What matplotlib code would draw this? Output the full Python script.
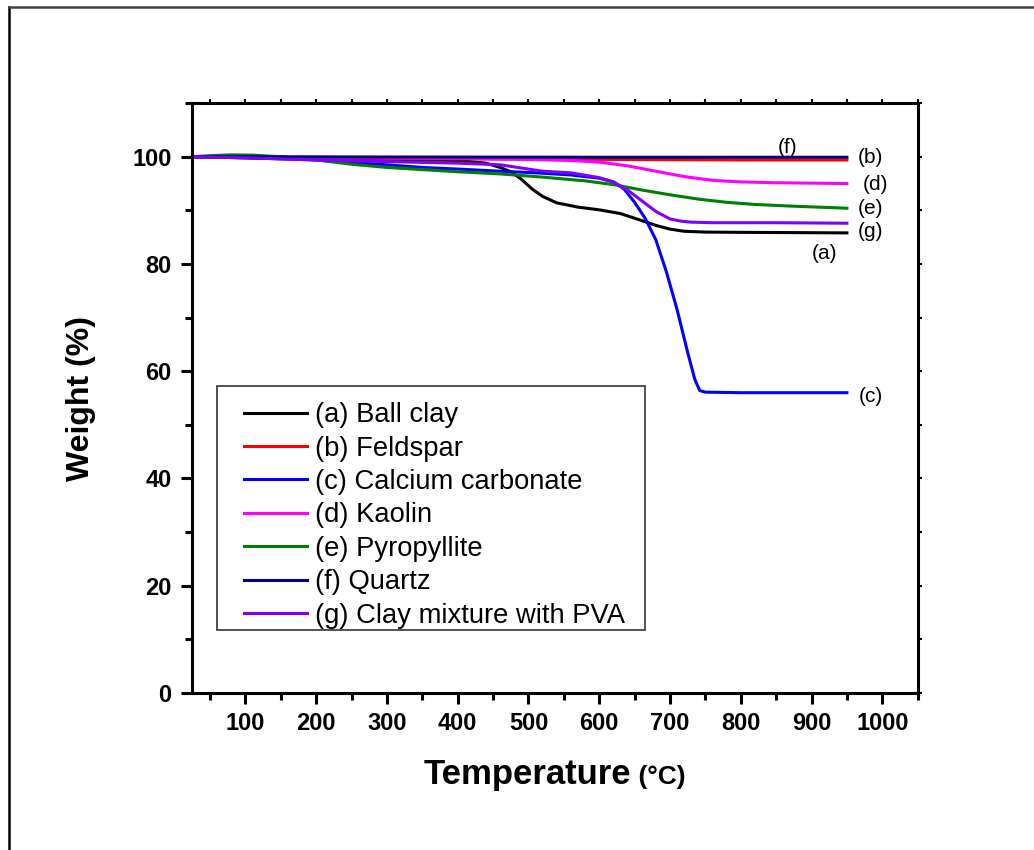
import matplotlib
matplotlib.use("Agg")
import matplotlib.pyplot as plt
from matplotlib.lines import Line2D
from matplotlib.patches import Rectangle
from matplotlib.offsetbox import TextArea, HPacker, AnchoredOffsetbox
from matplotlib.ticker import MultipleLocator

plt.rcParams['font.family'] = ['Liberation Sans', 'DejaVu Sans']

# ---- data ----
t_a = [25, 100, 200, 300, 400, 440, 460, 475, 490, 505, 520, 540, 570, 600, 630, 660, 680, 700, 720, 750, 800, 950]
w_a = [100, 99.8, 99.6, 99.5, 99.3, 98.8, 98.0, 97.2, 95.8, 94.0, 92.6, 91.4, 90.6, 90.1, 89.4, 88.1, 87.2, 86.5, 86.1, 85.95, 85.9, 85.8]

t_b = [25, 200, 400, 600, 800, 950]
w_b = [100, 99.8, 99.6, 99.5, 99.4, 99.4]

t_c = [25, 100, 200, 250, 300, 350, 400, 460, 510, 560, 600, 620, 635, 650, 665, 680, 695, 710, 725, 735, 742, 750, 800, 950]
w_c = [100, 99.8, 99.4, 98.9, 98.5, 98.0, 97.7, 97.3, 97.0, 96.6, 96.0, 95.3, 94.0, 91.5, 88.5, 84.5, 78.5, 71.5, 63.5, 58.5, 56.4, 56.1, 56.0, 56.0]

t_d = [25, 200, 400, 500, 560, 600, 640, 680, 720, 760, 800, 850, 950]
w_d = [100, 99.9, 99.7, 99.5, 99.3, 99.0, 98.3, 97.3, 96.3, 95.6, 95.3, 95.15, 95.0]

t_e = [25, 50, 80, 110, 150, 200, 250, 300, 350, 400, 460, 520, 580, 620, 660, 700, 740, 780, 820, 870, 950]
w_e = [100, 100.2, 100.35, 100.3, 100.0, 99.4, 98.6, 98.0, 97.6, 97.2, 96.8, 96.2, 95.5, 94.8, 93.8, 92.9, 92.1, 91.5, 91.1, 90.8, 90.4]

t_f = [25, 300, 600, 950]
w_f = [100, 99.95, 99.9, 99.9]

t_g = [25, 100, 200, 300, 400, 460, 520, 560, 600, 620, 640, 660, 680, 700, 715, 730, 760, 850, 950]
w_g = [100, 99.8, 99.4, 99.1, 98.8, 98.5, 97.3, 97.0, 96.1, 95.3, 93.8, 91.8, 89.8, 88.4, 88.0, 87.8, 87.7, 87.7, 87.6]

labels = ["(a) Ball clay", "(b) Feldspar", "(c) Calcium carbonate", "(d) Kaolin",
          "(e) Pyropyllite", "(f) Quartz", "(g) Clay mixture with PVA"]
colors = ["#000000", "#ff0000", "#0000ff", "#ff00ff", "#008000", "#000080", "#8000ff"]

tag_text = ["(f)", "(b)", "(d)", "(e)", "(g)", "(a)", "(c)"]
tag_x = [866, 983, 990, 984, 984, 919, 984]
tag_y = [101.7, 99.8, 94.8, 90.4, 86.0, 82.0, 55.2]

# ---- figure ----
fig = plt.figure(figsize=(10.34, 8.5), dpi=100)
ax = fig.add_axes([0.186, 0.1847, 0.7015, 0.694])

series = [(t_a, w_a), (t_b, w_b), (t_c, w_c), (t_d, w_d), (t_e, w_e), (t_f, w_f), (t_g, w_g)]
for (t, w), lab, c in zip(series, labels, colors):
    ax.plot(t, w, color=c, lw=2.2, label=lab)

for s, x, y in zip(tag_text, tag_x, tag_y):
    ax.text(x, y, s, fontsize=15, ha='center', va='center')

ax.set_xlim(25, 1050)
ax.set_ylim(0, 110)
ax.xaxis.set_minor_locator(MultipleLocator(50))
ax.yaxis.set_major_locator(MultipleLocator(20))
ax.yaxis.set_minor_locator(MultipleLocator(10))
ax.set_xticks(range(100, 1001, 100))
for sp in ax.spines.values():
    sp.set_linewidth(2.2)
ax.tick_params(which='major', direction='out', length=8, width=2.2, labelsize=17, pad=6)
ax.tick_params(which='minor', direction='out', length=5, width=2.2)
ax.tick_params(axis='y', which='major', pad=7)
for lbl in ax.get_xticklabels() + ax.get_yticklabels():
    lbl.set_fontweight('bold')

sx = ax.secondary_xaxis('top')
sx.xaxis.set_major_locator(MultipleLocator(50))
sx.tick_params(direction='out', length=3, width=1.5, labeltop=False)
sy = ax.secondary_yaxis('right')
sy.yaxis.set_major_locator(MultipleLocator(10))
sy.tick_params(direction='out', length=3, width=1.5, labelright=False)

ax.set_ylabel("Weight (%)", fontsize=23, fontweight='bold', labelpad=26)

ta = TextArea("Temperature", textprops=dict(fontsize=25, fontweight='bold'))
tb = TextArea(" (°C)", textprops=dict(fontsize=19, fontweight='bold'))
pk = HPacker(children=[ta, tb], align="baseline", pad=0, sep=0)
ab = AnchoredOffsetbox(loc='center', child=pk, frameon=False,
                       bbox_to_anchor=(0.5, -0.138), bbox_transform=ax.transAxes, borderpad=0)
ax.add_artist(ab)

# legend frame drawn as a separate box, legend itself without frame
ax.add_patch(Rectangle((0.034, 0.107), 0.590, 0.413, transform=ax.transAxes,
                       facecolor='white', edgecolor='#333333', lw=1.2, zorder=4))
leg = ax.legend(loc='upper left', bbox_to_anchor=(0.0713, 0.493), borderaxespad=0,
                fontsize=19.7, frameon=False, handlelength=2.3, handletextpad=0.28,
                labelspacing=0.27, borderpad=0)
leg.set_zorder(5)

# outer frame lines (left and top)
fig.add_artist(Line2D([9/1034, 9/1034], [0, 1 - 7/850], color='black', lw=1.8, transform=fig.transFigure))
fig.add_artist(Line2D([9/1034, 1], [1 - 7/850, 1 - 7/850], color='#444444', lw=1.8, transform=fig.transFigure))

fig.savefig("out.png", dpi=100)
